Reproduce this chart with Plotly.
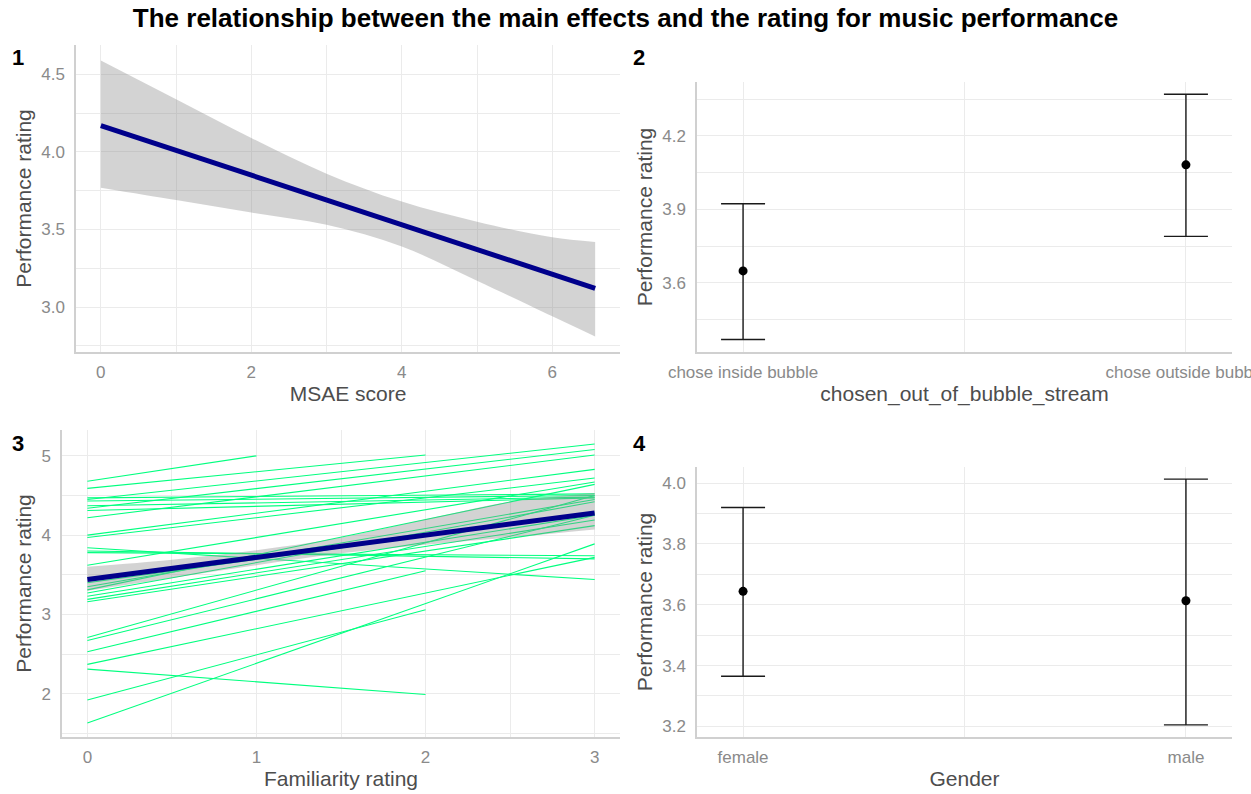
import plotly.graph_objects as go

# ---------------- data ----------------
# Panel 1: MSAE score effect
msae_x = [0, 1, 2, 3, 4, 5, 6, 6.57]
msae_fit = [4.17, 4.01, 3.85, 3.69, 3.53, 3.37, 3.21, 3.12]
msae_upper = [4.59, 4.34, 4.09, 3.86, 3.68, 3.55, 3.45, 3.42]
msae_lower = [3.77, 3.69, 3.61, 3.53, 3.39, 3.17, 2.94, 2.81]

# Panel 2: chosen_out_of_bubble_stream
bubble_cats = ["chose inside bubble", "chose outside bubble"]
bubble_mean = [3.649, 4.082]
bubble_low = [3.369, 3.790]
bubble_high = [3.923, 4.370]

# Panel 3: familiarity rating
fam_x = [0, 0.5, 1, 1.5, 2, 2.5, 3]
fam_fit = [3.44, 3.58, 3.72, 3.86, 4.00, 4.14, 4.28]
fam_upper = [3.60, 3.69, 3.81, 3.97, 4.20, 4.42, 4.53]
fam_lower = [3.30, 3.46, 3.62, 3.77, 3.88, 3.97, 4.07]
# individual participant lines: last familiarity value, rating at 0, rating at end
subj_xend = [1, 2, 3, 3, 3, 3, 3, 3, 3, 3, 3, 3, 3, 3, 3, 3, 3,
             3, 3, 3, 3, 2, 2, 3, 3, 2, 3, 3, 3]
subj_y0 = [4.68, 4.59, 4.45, 4.34, 4.22, 4.00, 3.97, 4.47, 4.43, 4.37, 4.31, 3.62, 3.31,
           3.27, 3.23, 3.19, 3.16, 3.84, 3.78, 3.80, 1.63, 1.92, 2.31, 2.71, 2.67, 2.53,
           2.37, 3.35, 3.40]
subj_y1 = [5.00, 5.01, 5.15, 5.08, 5.01, 4.83, 4.72, 4.52, 4.50, 4.48, 4.47, 4.67, 4.64,
           4.42, 4.25, 4.19, 4.12, 3.44, 3.74, 3.70, 3.89, 3.06, 1.99, 4.50, 4.25, 3.55,
           3.72, 4.45, 4.28]

# Panel 4: gender
gender_cats = ["female", "male"]
gender_mean = [3.644, 3.613]
gender_low = [3.365, 3.205]
gender_high = [3.920, 4.013]

# ---------------- figure ----------------
W, H = 1251, 794
fig = go.Figure()

band_col = "rgba(140,140,140,0.38)"
navy = "#00008B"
green = "#00FF7F"
FONT = "Liberation Sans, Arial, sans-serif"

# Panel 1
fig.add_trace(go.Scatter(x=msae_x, y=msae_upper, mode="lines", line=dict(width=0, shape="spline"),
                         showlegend=False, xaxis="x", yaxis="y", hoverinfo="skip"))
fig.add_trace(go.Scatter(x=msae_x, y=msae_lower, mode="lines", line=dict(width=0, shape="spline"),
                         fill="tonexty", fillcolor=band_col, showlegend=False,
                         xaxis="x", yaxis="y", hoverinfo="skip"))
fig.add_trace(go.Scatter(x=msae_x, y=msae_fit, mode="lines", line=dict(color=navy, width=5),
                         showlegend=False, xaxis="x", yaxis="y"))

# Panel 2
fig.add_trace(go.Scatter(
    x=[0, 1], y=bubble_mean, mode="markers",
    marker=dict(color="black", size=9),
    error_y=dict(type="data", symmetric=False,
                 array=[h - m for h, m in zip(bubble_high, bubble_mean)],
                 arrayminus=[m - l for m, l in zip(bubble_mean, bubble_low)],
                 color="#1a1a1a", thickness=1.4, width=22),
    showlegend=False, xaxis="x2", yaxis="y2"))

# Panel 3: participant lines
lx, ly = [], []
for xe, a, b in zip(subj_xend, subj_y0, subj_y1):
    lx += [0, xe, None]
    ly += [a, b, None]
fig.add_trace(go.Scatter(x=lx, y=ly, mode="lines", line=dict(color=green, width=1.1),
                         showlegend=False, xaxis="x3", yaxis="y3", connectgaps=False))
fig.add_trace(go.Scatter(x=fam_x, y=fam_upper, mode="lines", line=dict(width=0, shape="spline"),
                         showlegend=False, xaxis="x3", yaxis="y3", hoverinfo="skip"))
fig.add_trace(go.Scatter(x=fam_x, y=fam_lower, mode="lines", line=dict(width=0, shape="spline"),
                         fill="tonexty", fillcolor=band_col, showlegend=False,
                         xaxis="x3", yaxis="y3", hoverinfo="skip"))
fig.add_trace(go.Scatter(x=fam_x, y=fam_fit, mode="lines", line=dict(color=navy, width=5),
                         showlegend=False, xaxis="x3", yaxis="y3"))

# Panel 4
fig.add_trace(go.Scatter(
    x=[0, 1], y=gender_mean, mode="markers",
    marker=dict(color="black", size=9),
    error_y=dict(type="data", symmetric=False,
                 array=[h - m for h, m in zip(gender_high, gender_mean)],
                 arrayminus=[m - l for m, l in zip(gender_mean, gender_low)],
                 color="#1a1a1a", thickness=1.4, width=22),
    showlegend=False, xaxis="x4", yaxis="y4"))


def dx(a, b):
    return [a / W, b / W]


def dy(top, bottom):
    return [1 - bottom / H, 1 - top / H]


grid = "#EBEBEB"
axline = "#D0D0D0"
tickfont = dict(family=FONT, size=17, color="#8A8A8A")
titlefont = dict(family=FONT, size=21, color="#4D4D4D")


def xax(domain, rng, title, tickvals, ticktext=None, minor_vals=None, anchor="y"):
    d = dict(domain=domain, range=rng, anchor=anchor, automargin=False,
             tickvals=tickvals, showgrid=True, gridcolor=grid, gridwidth=1.1,
             zeroline=False, showline=True, linecolor=axline, linewidth=1.5,
             ticks="", tickfont=tickfont, ticklabelstandoff=4, ticklabeloverflow="allow",
             title=dict(text=title, font=titlefont, standoff=5),
             minor=dict(tickvals=minor_vals or [], showgrid=True, gridcolor=grid, gridwidth=0.6))
    if ticktext:
        d["ticktext"] = ticktext
    return d


def yax(domain, rng, title, tickvals, fmt, minor_vals, anchor="x"):
    return dict(domain=domain, range=rng, anchor=anchor, automargin=False,
                tickvals=tickvals, tickformat=fmt, showgrid=True, gridcolor=grid, gridwidth=1.1,
                zeroline=False, showline=True, linecolor=axline, linewidth=1.5,
                ticks="", tickfont=tickfont, ticklabelstandoff=6,
                title=dict(text=title, font=titlefont, standoff=4),
                minor=dict(tickvals=minor_vals, showgrid=True, gridcolor=grid, gridwidth=0.6))


fig.update_layout(
    width=W, height=H, margin=dict(l=0, r=0, t=0, b=0, autoexpand=False),
    paper_bgcolor="white", plot_bgcolor="white",
    font=dict(family=FONT),
    xaxis=xax(dx(76, 620), [-0.33, 6.90], "MSAE score", [0, 2, 4, 6],
              minor_vals=[1, 3, 5], anchor="y"),
    yaxis=yax(dy(45, 352), [2.71, 4.69], "Performance rating", [3.0, 3.5, 4.0, 4.5], ".1f",
              [2.75, 3.25, 3.75, 4.25], anchor="x"),
    xaxis2=xax(dx(697, 1232), [-0.104, 1.104], "chosen_out_of_bubble_stream", [0, 1],
               ticktext=bubble_cats, minor_vals=[0.5], anchor="y2"),
    yaxis2=yax(dy(82, 352), [3.318, 4.42], "Performance rating", [3.6, 3.9, 4.2], ".1f",
               [3.45, 3.75, 4.05, 4.35], anchor="x2"),
    xaxis3=xax(dx(62, 620), [-0.15, 3.15], "Familiarity rating", [0, 1, 2, 3],
               minor_vals=[0.5, 1.5, 2.5], anchor="y3"),
    yaxis3=yax(dy(430, 737), [1.454, 5.326], "Performance rating", [2, 3, 4, 5], "d",
               [1.5, 2.5, 3.5, 4.5], anchor="x3"),
    xaxis4=xax(dx(697, 1232), [-0.104, 1.104], "Gender", [0, 1],
               ticktext=gender_cats, minor_vals=[0.5], anchor="y4"),
    yaxis4=yax(dy(467, 737), [3.165, 4.053], "Performance rating", [3.2, 3.4, 3.6, 3.8, 4.0], ".1f",
               [3.3, 3.5, 3.7, 3.9], anchor="x4"),
    title=dict(text="<b>The relationship between the main effects and the rating for music performance</b>",
               x=0.5, xanchor="center", y=1 - 18 / H, yanchor="middle",
               font=dict(family=FONT, size=26, color="black")),
)

panel_labels = [("1", 18, 58), ("2", 639, 58), ("3", 18, 443), ("4", 639, 443)]
for txt, px, py in panel_labels:
    fig.add_annotation(text=f"<b>{txt}</b>", x=px / W, y=1 - py / H, xref="paper", yref="paper",
                       showarrow=False, xanchor="center", yanchor="middle",
                       font=dict(family=FONT, size=22, color="black"))

fig.write_html("out.html")
